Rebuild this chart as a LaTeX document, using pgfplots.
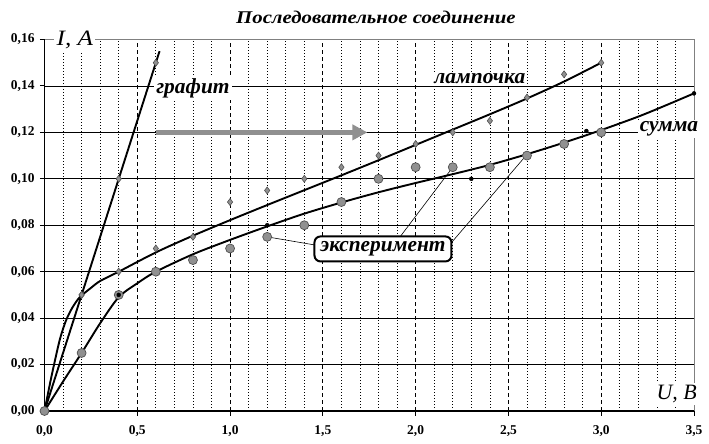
\documentclass[border=0pt]{standalone}
\usepackage{pgfplots}
\pgfplotsset{compat=1.18}
\usepackage{fontspec}
\setmainfont{Liberation Serif}
\usetikzlibrary{arrows.meta}
\definecolor{mk}{HTML}{909090}
\definecolor{mkd}{HTML}{505050}
\begin{document}
\begin{tikzpicture}
\begin{axis}[
  at={(0,0)}, anchor=south west,
  scale only axis, width=649.5bp, height=371.5bp,
  xmin=0, xmax=3.5, ymin=0, ymax=0.16,
  clip=false,
  axis line style={draw=none},
  xtick={0,0.5,1,1.5,2,2.5,3,3.5},
  ytick={0,0.02,0.04,0.06,0.08,0.1,0.12,0.14,0.16},
  minor x tick num=4,
  minor tick length=0pt,
  major tick length=4.5bp,
  tick align=outside,
  xtick pos=bottom, ytick pos=left,
  tick style={black, line width=0.9bp},
  grid=both,
  major x grid style={black, line width=0.8bp, dash pattern=on 4bp off 3bp},
  minor x grid style={black, line width=0.7bp, dash pattern=on 1bp off 2bp},
  major y grid style={black, line width=0.8bp, solid},
  /pgf/number format/assume math mode=true,
  x tick label style={font=\fontsize{13.5}{14}\selectfont\bfseries, yshift=-7bp,
     /pgf/number format/.cd, fixed, fixed zerofill, precision=1, use comma},
  y tick label style={font=\fontsize{13.5}{14}\selectfont\bfseries, xshift=-2bp,
     /pgf/number format/.cd, fixed, fixed zerofill, precision=2, use comma},
  scaled y ticks=false,
]
% frame
\draw[gray, line width=0.8bp] (axis cs:0,0.16) -- (axis cs:3.5,0.16) -- (axis cs:3.5,0);
\draw[black, line width=1.8bp] (axis cs:0,0) -- (axis cs:0,0.16);
\draw[black, line width=2.5bp] (axis cs:0,0) -- (axis cs:3.5,0);
% arrow
\draw[mk, line width=5bp, -{Triangle[length=15bp,width=15bp]}] (axis cs:0.6,0.12) -- (axis cs:1.74,0.12);
% curves
\addplot[black, line width=1.9bp] coordinates {(0,0) (0.62,0.155)};
\addplot[black, line width=1.9bp, smooth, tension=0.5] coordinates {
(0,0) (0.03,0.012) (0.057,0.022) (0.085,0.0315) (0.116,0.039) (0.15,0.0445) (0.19,0.049)
(0.25,0.053) (0.3,0.056) (0.4,0.060) (0.6,0.0683) (0.8,0.0755) (1.0,0.0822)
(1.2,0.0887) (1.4,0.0951) (1.6,0.1015) (1.8,0.1080) (2.0,0.1146) (2.2,0.1212) (2.4,0.1278)
(2.6,0.1346) (2.8,0.1419) (3.0,0.150)};
\addplot[black, line width=1.9bp, smooth, tension=0.5] coordinates {
(0,0) (0.1,0.0127) (0.2,0.025) (0.3,0.0378) (0.4,0.049) (0.5,0.055) (0.6,0.060)
(0.8,0.0675) (1.0,0.0737) (1.2,0.0795) (1.4,0.0850) (1.6,0.0898) (1.8,0.0942) (2.0,0.0982)
(2.2,0.1020) (2.4,0.1060) (2.6,0.1106) (2.8,0.1156) (3.0,0.1210) (3.2,0.1268) (3.35,0.1317) (3.5,0.1368)};
% callout lines
\draw[black, line width=0.6bp] (axis cs:1.2,0.075) -- (axis cs:1.457,0.0715);
\draw[black, line width=0.6bp] (axis cs:2.2,0.105) -- (axis cs:1.915,0.0749);
\draw[black, line width=0.6bp] (axis cs:2.6,0.1105) -- (axis cs:2.196,0.0728);
% graphite points
\addplot[only marks, mark=diamond*, mark size=3.5bp, mark options={fill=mk, draw=mkd, line width=0.6bp}] coordinates {
(0,0) (0.2,0.05) (0.4,0.1) (0.6,0.15)};
% lamp points
\addplot[only marks, mark=diamond*, mark size=3.5bp, mark options={fill=mk, draw=mkd, line width=0.6bp}] coordinates {
(0,0) (0.2,0.05) (0.4,0.06) (0.6,0.07) (0.8,0.075) (1.0,0.09) (1.2,0.095) (1.4,0.1)
(1.6,0.105) (1.8,0.11) (2.0,0.115) (2.2,0.12) (2.4,0.125) (2.6,0.135) (2.8,0.145) (3.0,0.15)};
% experiment points
\addplot[only marks, mark=*, mark size=4.5bp, mark options={fill=mk, draw=mkd, line width=0.7bp}] coordinates {
(0,0) (0.2,0.025) (0.4,0.05) (0.6,0.06) (0.8,0.065) (1.0,0.07) (1.2,0.075) (1.4,0.08)
(1.6,0.09) (1.8,0.1) (2.0,0.105) (2.2,0.105) (2.4,0.105) (2.6,0.11) (2.8,0.115) (3.0,0.12)};
% sum points
\addplot[only marks, mark=*, mark size=2bp, mark options={fill=black, draw=black}] coordinates {
(0.4,0.05) (1.2,0.08) (2.3,0.1) (2.92,0.1206) (3.5,0.1368)};
% labels
\node[fill=white, inner sep=2bp, xscale=1.15, font=\fontsize{22}{23}\selectfont\itshape] at (axis cs:0.164,0.1598) {I, A};
\node[fill=white, inner sep=2bp, font=\fontsize{22}{23}\selectfont\itshape] at (axis cs:3.407,0.0073) {U, B};
\node[fill=white, inner sep=2bp, font=\fontsize{21.5}{22}\selectfont\bfseries\itshape] at (axis cs:0.80,0.139) {графит};
\node[fill=white, inner sep=2bp, font=\fontsize{21.5}{22}\selectfont\bfseries\itshape] at (axis cs:2.346,0.143) {лампочка};
\node[fill=white, inner sep=2bp, font=\fontsize{21.5}{22}\selectfont\bfseries\itshape] at (axis cs:3.365,0.1214) {сумма};
\node[fill=white, draw=black, line width=2bp, rounded corners=6bp, minimum width=137bp, minimum height=25bp, inner sep=1bp, font=\fontsize{21.5}{22}\selectfont\bfseries\itshape] at (axis cs:1.824,0.0698) {эксперимент};
\node[xscale=1.16, font=\fontsize{18}{19}\selectfont\bfseries\itshape] at (axis cs:1.786,0.1697) {Последовательное соединение};
\end{axis}
\pgfresetboundingbox
\path (-44.5bp,-33bp) rectangle (664.5bp,411bp);
\end{tikzpicture}
\end{document}
